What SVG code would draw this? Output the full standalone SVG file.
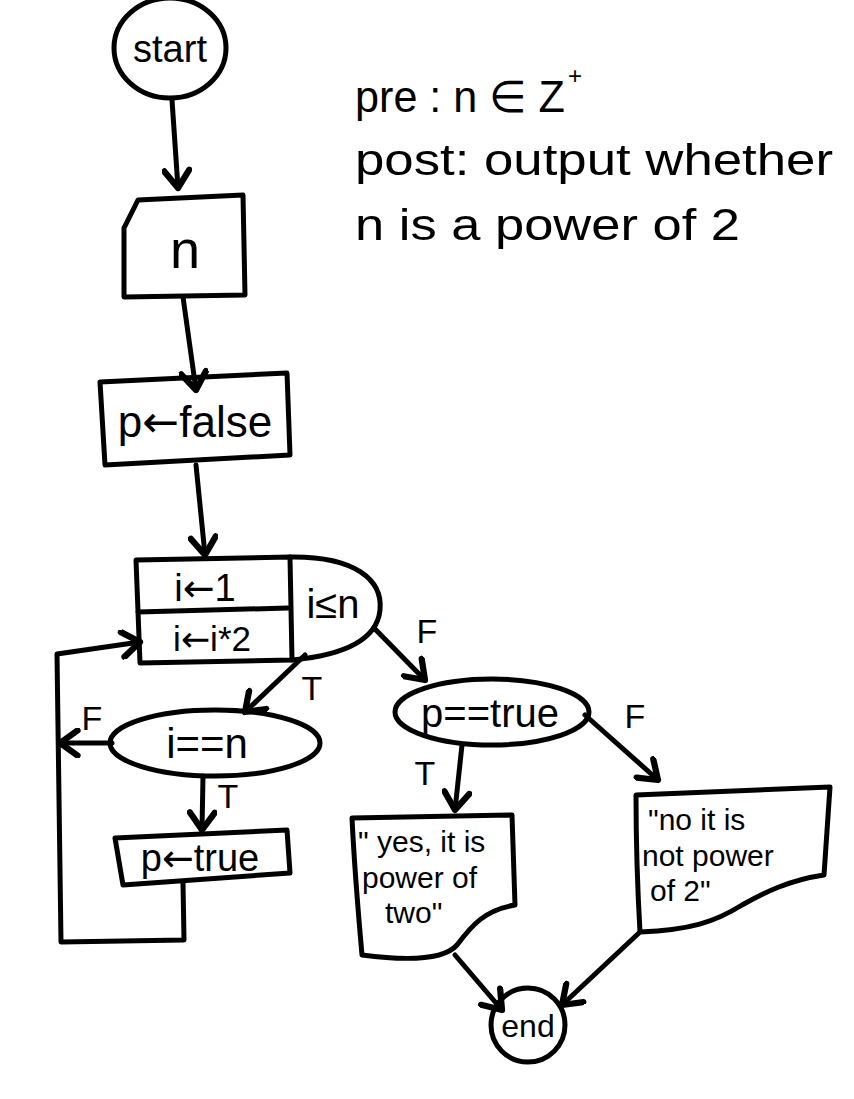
<svg xmlns="http://www.w3.org/2000/svg" width="854" height="1099" viewBox="0 0 854 1099">
<style>
.s{fill:none;stroke:#000;stroke-width:5;stroke-linejoin:round;stroke-linecap:round}
.t{font-family:"Liberation Sans",Arial,sans-serif;fill:#000;text-anchor:middle}
.q{font-family:"Liberation Sans",Arial,sans-serif;fill:#000;text-anchor:start;font-size:30px}
.ar{font-family:"DejaVu Sans",sans-serif}
.a{font-family:"Liberation Sans",Arial,sans-serif;fill:#000;font-size:44px}
.sup{font-family:"Liberation Sans",Arial,sans-serif;fill:#000;font-size:24px}
.l{font-family:"Liberation Sans",Arial,sans-serif;fill:#000;font-size:34px;text-anchor:middle}
</style>
<defs>
<marker id="ah" markerUnits="userSpaceOnUse" markerWidth="30" markerHeight="30" refX="16" refY="10" orient="auto" viewBox="-2 -2 22 24">
<path d="M2,0 L16,10 L2,20" fill="none" stroke="#000" stroke-width="5" stroke-linecap="round" stroke-linejoin="round"/>
</marker>
</defs>
<rect width="854" height="1099" fill="#fff"/>

<g id="annotation">
<text class="a" x="355" y="112" textLength="210" lengthAdjust="spacingAndGlyphs">pre : n ∈ Z</text>
<text class="sup" x="568" y="84">+</text>
<text class="a" x="355" y="175" textLength="478" lengthAdjust="spacingAndGlyphs">post: output whether</text>
<text class="a" x="355" y="240" textLength="385" lengthAdjust="spacingAndGlyphs">n is a power of 2</text>
</g>

<g id="start">
<ellipse class="s" cx="170" cy="48" rx="56" ry="50"/>
<text class="t" x="170" y="62" font-size="38">start</text>
</g>

<g id="input-n">
<path class="s" d="M138,200 L243,195 L245,295 L124,297 L124,228 Z"/>
<text class="t" x="185" y="268" font-size="54">n</text>
</g>

<g id="init-p">
<path class="s" d="M100,382 L287,373 L290,455 L105,465 Z"/>
<text class="t" x="195" y="437" font-size="44">p<tspan class="ar">←</tspan>false</text>
</g>

<g id="loop">
<path class="s" d="M136,560 L290,557 L292,660 L140,663 Z"/>
<path class="s" d="M290,557 C355,556 383,580 380,610 C377,640 345,655 292,660"/>
<path class="s" d="M138,612 L288,608"/>
<text class="t" x="205" y="601" font-size="38">i<tspan class="ar">←</tspan>1</text>
<text class="t" x="212" y="651" font-size="35">i<tspan class="ar">←</tspan>i*2</text>
<text class="t" x="333" y="618" font-size="40">i≤n</text>
</g>

<g id="cond-i">
<ellipse class="s" cx="215" cy="743" rx="105" ry="33"/>
<text class="t" x="207" y="758" font-size="42">i==n</text>
</g>

<g id="set-p">
<path class="s" d="M115,838 L287,830 L290,873 L123,885 Z"/>
<text class="t" x="200" y="871" font-size="38">p<tspan class="ar">←</tspan>true</text>
</g>

<g id="cond-p">
<ellipse class="s" cx="492" cy="712" rx="97" ry="33"/>
<text class="t" x="490" y="727" font-size="40">p==true</text>
</g>

<g id="out-yes">
<path class="s" d="M352,818 L512,815 L515,905 C485,910 472,925 457,945 C442,962 400,960 362,955 C358,910 354,860 352,818 Z"/>
<text class="q" x="358" y="852">" yes, it is</text>
<text class="q" x="362" y="888">power of</text>
<text class="q" x="385" y="923">two"</text>
</g>

<g id="out-no">
<path class="s" d="M636,795 L830,787 L824,875 C790,880 765,892 742,905 C715,922 690,930 640,932 C637,880 636,840 636,795 Z"/>
<text class="q" x="648" y="830" font-size="31">"no it is</text>
<text class="q" x="642" y="866" font-size="31">not power</text>
<text class="q" x="650" y="901" font-size="31">of 2"</text>
</g>

<g id="end">
<ellipse class="s" cx="528" cy="1025" rx="37" ry="37"/>
<text class="t" x="528" y="1037" font-size="32">end</text>
</g>

<g id="connectors">
<path class="s" d="M172,100 L178,188" marker-end="url(#ah)"/>
<path class="s" d="M183,297 L196,390" marker-end="url(#ah)"/>
<path class="s" d="M196,465 L205,555" marker-end="url(#ah)"/>
<path class="s" d="M305,655 L245,712" marker-end="url(#ah)"/>
<path class="s" d="M112,743 L60,743" marker-end="url(#ah)"/>
<path class="s" d="M203,776 L202,830" marker-end="url(#ah)"/>
<path class="s" d="M183,883 L184,940 L61,942 L57,654 L140,642" marker-end="url(#ah)"/>
<path class="s" d="M374,628 L425,680" marker-end="url(#ah)"/>
<path class="s" d="M462,745 L455,810" marker-end="url(#ah)"/>
<path class="s" d="M585,715 L658,780" marker-end="url(#ah)"/>
<path class="s" d="M455,955 L502,1010" marker-end="url(#ah)"/>
<path class="s" d="M640,932 L562,1005" marker-end="url(#ah)"/>
<text class="l" x="312" y="700">T</text>
<text class="l" x="92" y="730">F</text>
<text class="l" x="228" y="808">T</text>
<text class="l" x="427" y="643">F</text>
<text class="l" x="635" y="728">F</text>
<text class="l" x="425" y="785">T</text>
</g>
</svg>
